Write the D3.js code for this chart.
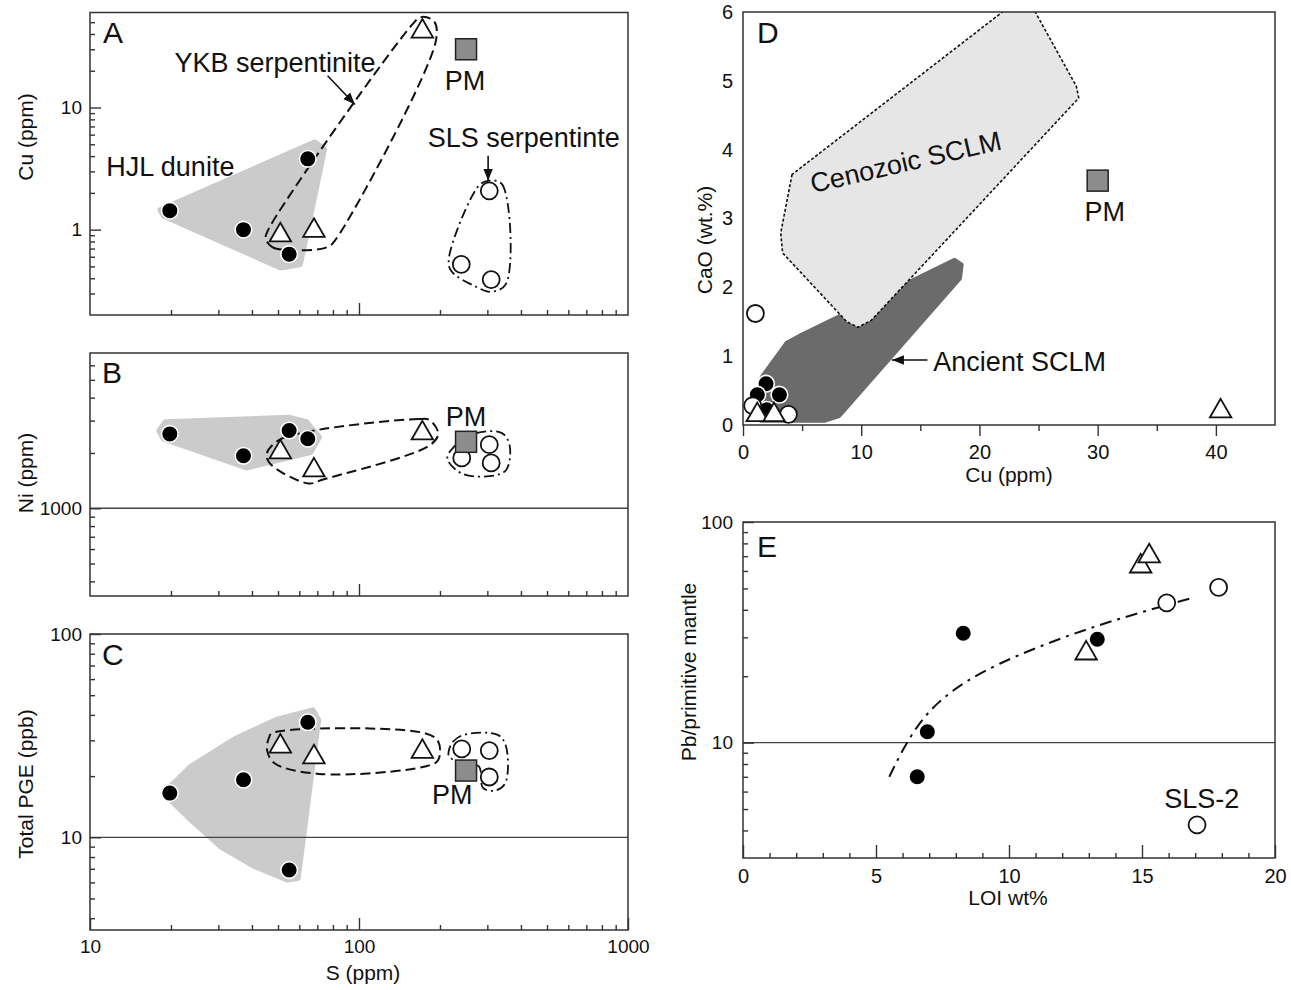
<!DOCTYPE html>
<html lang="en">
<head>
<meta charset="UTF-8">
<title>S - Cu - Ni - PGE - CaO - Pb diagrams</title>
<script src="https://d3js.org/d3.v7.min.js"></script>
<style>
  body { margin: 0; background: #fff; }
  svg text { font-family: "Liberation Sans", Arial, Helvetica, sans-serif; fill: #111; }
</style>
</head>
<body>
<div id="chart"></div>
<script>
// ---------- data ----------
// HJL dunite = filled circles, YKB serpentinite = triangles, SLS serpentinite = open circles, PM = grey square
const hjlS   = [19.8, 37.2, 55, 64.5];
const hjlCu  = [1.43, 1.0, 0.63, 3.8];
const hjlNi  = [2540, 1930, 2650, 2390];
const hjlPGE = [16.5, 19.2, 6.9, 36.8];

const ykbS   = [51, 68, 172];
const ykbCu  = [0.9, 0.98, 42];
const ykbNi  = [2020, 1610, 2560];
const ykbPGE = [28, 24.8, 26.4];

const slsS_A = [305, 240, 310];
const slsCu  = [2.08, 0.52, 0.39];
const slsS_B = [241, 305, 310];
const slsNi  = [1880, 2220, 1765];
const slsS_C = [241, 305, 305];
const slsPGE = [27.2, 26.7, 19.8];

const pmS = 250, pmCu = 30, pmNi = 2300, pmPGE = 21.3, pmCaO = 3.55;

// panel D (Cu vs CaO)
const dHjlCu  = [1.95, 1.21, 3.08, 2.0];
const dHjlCaO = [0.6, 0.44, 0.44, 0.22];
const dYkbCu  = [1.21, 2.63, 40.4];
const dYkbCaO = [0.145, 0.145, 0.2];
const dSlsCu  = [1.05, 0.82, 3.84];
const dSlsCaO = [1.62, 0.28, 0.155];

// panel E (LOI vs Pb/PM)
const eHjlLoi = [8.28, 6.93, 6.55, 13.32];
const eHjlPb  = [31.3, 11.2, 7.0, 29.4];
const eYkbLoi = [12.9, 14.95, 15.27];
const eYkbPb  = [25.4, 63, 70];
const eSlsLoi = [15.93, 17.88, 17.07];
const eSlsPb  = [43, 50.5, 4.24];
const eTrendLoi = [5.5, 6.0, 6.6, 7.3, 8.3, 9.6, 11.2, 13.0, 14.8, 16.8];
const eTrendPb  = [7.0, 9.3, 12.2, 15.2, 18.8, 22.8, 27.5, 33.0, 38.5, 45];

// outlines of the fields [x, y]
const hjlFieldA = [[18.3,1.45],[68.4,5.17],[74.2,4.57],[60.3,0.52],[51.2,0.49],[18.8,1.30]];
const ykbEnvA = [[45,0.84],[47.6,0.72],[55,0.68],[76.4,0.72],[82.2,0.84],[193,35],[190,51],[170,55],[158,48],[45.8,0.98]];
const slsEnvA = [[305,2.52],[340,2.36],[352,0.36],[310,0.31],[273,0.34],[220,0.46],[216,0.59],[279,2.29]];

const hjlFieldB = [[18.1,2650],[19.1,2940],[55.1,3105],[63.7,2940],[71,2440],[66,2023],[38.2,1666],[18.8,2390]];
const ykbEnvB = [[68.4,2650],[167,3062],[183,3020],[197,2545],[183,2198],[73.6,1435],[64.8,1365],[46.7,1750],[45.4,1983],[50.2,2340]];
const slsEnvB = [[225,2154],[273,2565],[340,2565],[363,2198],[352,1611],[305,1495],[241,1546],[213,1862]];

const hjlFieldC = [[18.8,16.5],[23.8,22.3],[34.3,30.2],[49.3,37.8],[67.3,42.1],[70.5,37.8],[59.2,6.3],[54,6.2],[41.1,7.2],[30.7,9.0],[23.8,12.2]];
const ykbEnvC = [[47.5,32.5],[176,32.5],[197,29.6],[197,24],[176,22.3],[71,20.5],[48.4,23.2],[45.5,26.9],[46.2,30.7]];
const slsEnvC = [[216,26.9],[224,29.6],[245,31.9],[328,31.9],[352,28],[350,18.5],[322,17.0],[289,17.5],[279,22.3],[232,23.6],[216,25]];

const cenozoicField = [[4.15,3.64],[3.19,2.79],[3.35,2.50],[8.78,1.50],[9.73,1.42],[10.85,1.52],[28.4,4.75],[28.2,4.92],[24.4,6.1],[22.7,6.1]];
const ancientField = [[1.5,0.06],[1.6,0.70],[3.67,1.19],[4.95,1.31],[17.9,2.40],[18.5,2.33],[18.35,2.13],[8.14,0.13],[6.86,0.06]];

// tick labels
const cuTicksA = [1, 10];
const niTicksB = [1000];
const pgeTicksC = [10, 100];
const sTicks = [10, 100, 1000];
const cuTicksD = [0, 10, 20, 30, 40];
const caoTicksD = [0, 1, 2, 3, 4, 5, 6];
const loiTicksE = [0, 5, 10, 15, 20];
const pbTicksE = [10, 100];

// ---------- scales ----------
const xS   = d3.scaleLog().domain([10, 1000]).range([90, 628]);
const yCu  = d3.scaleLog().domain([0.2, 60]).range([315, 12.5]);
const yNi  = d3.scaleLog().domain([333, 7000]).range([596, 353]);
const yPGE = d3.scaleLog().domain([3.5, 100]).range([930, 634]);
const xCuD = d3.scaleLinear().domain([0, 45]).range([743, 1275]);
const yCaO = d3.scaleLinear().domain([0, 6]).range([425, 12]);
const xLOI = d3.scaleLinear().domain([0, 20]).range([743, 1275]);
const yPb  = d3.scaleLog().domain([3, 100]).range([858, 522]);

const svg = d3.select("#chart").append("svg")
    .attr("width", 1291).attr("height", 990)
    .style("display", "block");

const defs = svg.append("defs");
defs.append("marker").attr("id", "arrow")
    .attr("viewBox", "0 0 10 10").attr("refX", 10).attr("refY", 5)
    .attr("markerWidth", 12).attr("markerHeight", 12)
    .attr("markerUnits", "userSpaceOnUse").attr("orient", "auto")
  .append("path").attr("d", "M0,1 L10,5 L0,9 Z").attr("fill", "#111");

function clip(id, sx, sy) {
    const [x0, x1] = sx.range(), [y0, y1] = sy.range();
    defs.append("clipPath").attr("id", id).append("rect")
        .attr("x", x0).attr("y", y1).attr("width", x1 - x0).attr("height", y0 - y1);
}
clip("clipA", xS, yCu); clip("clipB", xS, yNi); clip("clipC", xS, yPGE);
clip("clipD", xCuD, yCaO); clip("clipE", xLOI, yPb);

function logMinor(domain) {
    const out = [];
    const lo = Math.floor(Math.log10(domain[0])), hi = Math.ceil(Math.log10(domain[1]));
    for (let k = lo; k <= hi; k++) for (let m = 2; m <= 9; m++) {
        const v = +(m * Math.pow(10, k)).toPrecision(3);
        if (v > domain[0] * 1.001 && v < domain[1] * 0.999) out.push(v);
    }
    return out;
}

function axis(ax, transform, size) {
    const g = svg.append("g").attr("transform", transform).call(ax);
    g.select(".domain").remove();
    g.selectAll(".tick line").attr("stroke", "#333").attr("stroke-width", 1.4);
    g.selectAll(".tick text").style("font-size", (size || 19) + "px").attr("fill", "#111");
    return g;
}

function frame(sx, sy) {
    const [x0, x1] = sx.range(), [y0, y1] = sy.range();
    svg.append("rect").attr("x", x0).attr("y", y1)
        .attr("width", x1 - x0).attr("height", y0 - y1)
        .attr("fill", "none").attr("stroke", "#333").attr("stroke-width", 1.5);
}

function gridAt(v, sx, sy) {
    svg.append("line").attr("x1", sx.range()[0]).attr("x2", sx.range()[1])
        .attr("y1", sy(v)).attr("y2", sy(v))
        .attr("stroke", "#444").attr("stroke-width", 1.3);
}

function field(pts, sx, sy, clipId, style) {
    const line = d3.line().x(d => sx(d[0])).y(d => sy(d[1]))
        .curve(style.curve || d3.curveLinearClosed);
    return svg.append("path").attr("d", line(pts))
        .attr("clip-path", `url(#${clipId})`)
        .attr("fill", style.fill || "none")
        .attr("stroke", style.stroke || "none")
        .attr("stroke-width", style.width || 1)
        .attr("stroke-dasharray", style.dash || null)
        .attr("stroke-linejoin", "round");
}

function points(xs, ys, sx, sy, kind) {
    const data = xs.map((x, i) => [x, ys[i]]);
    const g = svg.append("g");
    if (kind === "filled") {
        g.selectAll("circle").data(data).join("circle")
            .attr("cx", d => sx(d[0])).attr("cy", d => sy(d[1])).attr("r", 8.3)
            .attr("fill", "#000").attr("stroke", "#fff").attr("stroke-width", 1.6);
    } else if (kind === "open") {
        g.selectAll("circle").data(data).join("circle")
            .attr("cx", d => sx(d[0])).attr("cy", d => sy(d[1])).attr("r", 8.5)
            .attr("fill", "#fff").attr("stroke", "#111").attr("stroke-width", 1.8);
    } else if (kind === "tri") {
        g.selectAll("path").data(data).join("path")
            .attr("transform", d => `translate(${sx(d[0])},${sy(d[1])})`)
            .attr("d", d3.symbol(d3.symbolTriangle, 200))
            .attr("fill", "#fff").attr("stroke", "#111").attr("stroke-width", 1.8);
    } else if (kind === "pm") {
        g.selectAll("rect").data(data).join("rect")
            .attr("x", d => sx(d[0]) - 10.5).attr("y", d => sy(d[1]) - 10.5)
            .attr("width", 21).attr("height", 21)
            .attr("fill", "#8c8c8c").attr("stroke", "#222").attr("stroke-width", 1.5);
    }
}

function note(x, y, s, size, anchor, rot) {
    svg.append("text")
        .attr("transform", `translate(${x},${y})` + (rot ? ` rotate(${rot})` : ""))
        .attr("text-anchor", anchor || "start")
        .style("font-size", size + "px")
        .text(s);
}

function arrow(x1, y1, x2, y2) {
    svg.append("line").attr("x1", x1).attr("y1", y1).attr("x2", x2).attr("y2", y2)
        .attr("stroke", "#111").attr("stroke-width", 1.6)
        .attr("marker-end", "url(#arrow)");
}

const hjlStyle = { fill: "#cbcbcb", stroke: "#cbcbcb", width: 6 };
const ykbStyle = { stroke: "#111", width: 2, dash: "10,5", curve: d3.curveCatmullRomClosed.alpha(0.5) };
const slsStyle = { stroke: "#111", width: 1.8, dash: "10,4,2,4", curve: d3.curveCatmullRomClosed.alpha(0.5) };
const fmt = d => String(d);

// ---------- panel A: S vs Cu ----------
field(hjlFieldA, xS, yCu, "clipA", hjlStyle);
field(ykbEnvA, xS, yCu, "clipA", ykbStyle);
field(slsEnvA, xS, yCu, "clipA", slsStyle);
axis(d3.axisLeft(yCu).tickValues(logMinor(yCu.domain())).tickSize(-5).tickFormat(""), "translate(90,0)");
axis(d3.axisLeft(yCu).tickValues(cuTicksA).tickSize(-11).tickPadding(8).tickFormat(fmt), "translate(90,0)");
axis(d3.axisBottom(xS).tickValues(logMinor(xS.domain())).tickSize(-5).tickFormat(""), "translate(0,315)");
axis(d3.axisBottom(xS).tickValues([100]).tickSize(-12).tickFormat(""), "translate(0,315)");
frame(xS, yCu);
points(hjlS, hjlCu, xS, yCu, "filled");
points(ykbS, ykbCu, xS, yCu, "tri");
points(slsS_A, slsCu, xS, yCu, "open");
points([pmS], [pmCu], xS, yCu, "pm");
note(103, 43, "A", 30);
note(xS(11.5), yCu(2.76), "HJL dunite", 27);
note(xS(20.6), yCu(19.6), "YKB serpentinite", 27);
arrow(xS(76.4), yCu(18.2), xS(96.6), yCu(10.6));
note(xS(248), yCu(13.9), "PM", 27, "middle");
note(xS(180), yCu(4.71), "SLS serpentinte", 27);
arrow(xS(302), yCu(4.03), xS(302), yCu(2.52));
note(33, 137, "Cu (ppm)", 21, "middle", -90);

// ---------- panel B: S vs Ni ----------
field(hjlFieldB, xS, yNi, "clipB", hjlStyle);
field(ykbEnvB, xS, yNi, "clipB", ykbStyle);
field(slsEnvB, xS, yNi, "clipB", slsStyle);
gridAt(1000, xS, yNi);
axis(d3.axisLeft(yNi).tickValues(logMinor(yNi.domain())).tickSize(-5).tickFormat(""), "translate(90,0)");
axis(d3.axisLeft(yNi).tickValues(niTicksB).tickSize(-11).tickPadding(8).tickFormat(fmt), "translate(90,0)");
axis(d3.axisBottom(xS).tickValues(logMinor(xS.domain())).tickSize(-5).tickFormat(""), "translate(0,596)");
axis(d3.axisBottom(xS).tickValues([100]).tickSize(-12).tickFormat(""), "translate(0,596)");
frame(xS, yNi);
points(hjlS, hjlNi, xS, yNi, "filled");
points(ykbS, ykbNi, xS, yNi, "tri");
points(slsS_B, slsNi, xS, yNi, "open");
points([pmS], [pmNi], xS, yNi, "pm");
note(102, 383, "B", 30);
note(xS(250), yNi(2810), "PM", 27, "middle");
note(33, 473, "Ni (ppm)", 21, "middle", -90);

// ---------- panel C: S vs total PGE ----------
field(hjlFieldC, xS, yPGE, "clipC", hjlStyle);
field(ykbEnvC, xS, yPGE, "clipC", ykbStyle);
field(slsEnvC, xS, yPGE, "clipC", slsStyle);
gridAt(10, xS, yPGE);
axis(d3.axisLeft(yPGE).tickValues(logMinor(yPGE.domain())).tickSize(-5).tickFormat(""), "translate(90,0)");
axis(d3.axisLeft(yPGE).tickValues(pgeTicksC).tickSize(-11).tickPadding(8).tickFormat(fmt), "translate(90,0)");
axis(d3.axisBottom(xS).tickValues(logMinor(xS.domain())).tickSize(-5).tickFormat(""), "translate(0,930)");
axis(d3.axisBottom(xS).tickValues(sTicks).tickSize(-12).tickPadding(10).tickFormat(fmt), "translate(0,930)");
frame(xS, yPGE);
points(hjlS, hjlPGE, xS, yPGE, "filled");
points(ykbS, ykbPGE, xS, yPGE, "tri");
points(slsS_C, slsPGE, xS, yPGE, "open");
points([pmS], [pmPGE], xS, yPGE, "pm");
note(102, 665, "C", 30);
note(xS(222), yPGE(14.5), "PM", 27, "middle");
note(33, 784, "Total PGE (ppb)", 21, "middle", -90);
note(363, 980, "S (ppm)", 21, "middle");

// ---------- panel D: Cu vs CaO ----------
field(ancientField, xCuD, yCaO, "clipD", { fill: "#6b6b6b", stroke: "#6b6b6b", width: 4 });
field(cenozoicField, xCuD, yCaO, "clipD", { fill: "#e6e6e6", stroke: "#111", width: 1.6, dash: "3,2" });
axis(d3.axisBottom(xCuD).tickValues([5, 15, 25, 35]).tickSize(6).tickFormat(""), "translate(0,425)");
axis(d3.axisBottom(xCuD).tickValues(cuTicksD).tickSize(11).tickPadding(9).tickFormat(fmt), "translate(0,425)", 20);
axis(d3.axisLeft(yCaO).tickValues(caoTicksD).tickSize(0).tickPadding(10).tickFormat(fmt), "translate(743,0)", 20);
frame(xCuD, yCaO);
points(dSlsCu.slice(0, 1), dSlsCaO.slice(0, 1), xCuD, yCaO, "open");
points(dHjlCu, dHjlCaO, xCuD, yCaO, "filled");
points(dSlsCu.slice(1), dSlsCaO.slice(1), xCuD, yCaO, "open");
points(dYkbCu, dYkbCaO, xCuD, yCaO, "tri");
points([pmCu], [pmCaO], xCuD, yCaO, "pm");
note(757, 43, "D", 30);
note(xCuD(30.6), yCaO(2.96), "PM", 27, "middle");
note(xCuD(5.9), yCaO(3.37), "Cenozoic SCLM", 27, "start", -13);
note(xCuD(16.1), yCaO(0.79), "Ancient SCLM", 27);
arrow(xCuD(15.6), yCaO(0.945), xCuD(12.6), yCaO(0.945));
note(712, 240, "CaO (wt.%)", 21, "middle", -90);
note(1009, 482, "Cu (ppm)", 21, "middle");

// ---------- panel E: LOI vs Pb/primitive mantle ----------
gridAt(10, xLOI, yPb);
svg.append("path")
    .attr("d", d3.line().x(d => xLOI(d[0])).y(d => yPb(d[1])).curve(d3.curveBasis)(eTrendLoi.map((v, i) => [v, eTrendPb[i]])))
    .attr("fill", "none").attr("stroke", "#111").attr("stroke-width", 2)
    .attr("stroke-dasharray", "12,6,3,6");
axis(d3.axisBottom(xLOI).tickValues(d3.range(1, 20).filter(v => v % 5)).tickSize(-5).tickFormat(""), "translate(0,858)");
axis(d3.axisBottom(xLOI).tickValues(loiTicksE).tickSize(-13).tickPadding(11).tickFormat(fmt), "translate(0,858)", 20);
axis(d3.axisLeft(yPb).tickValues(logMinor(yPb.domain())).tickSize(-5).tickFormat(""), "translate(743,0)");
axis(d3.axisLeft(yPb).tickValues(pbTicksE).tickSize(-11).tickPadding(10).tickFormat(fmt), "translate(743,0)");
frame(xLOI, yPb);
points(eHjlLoi, eHjlPb, xLOI, yPb, "filled");
points(eYkbLoi, eYkbPb, xLOI, yPb, "tri");
points(eSlsLoi, eSlsPb, xLOI, yPb, "open");
note(757, 557, "E", 30);
note(xLOI(17.25), yPb(5.05), "SLS-2", 27, "middle");
note(696, 672, "Pb/primitive mantle", 21, "middle", -90);
note(1008, 905, "LOI wt%", 21, "middle");
</script>
</body>
</html>
